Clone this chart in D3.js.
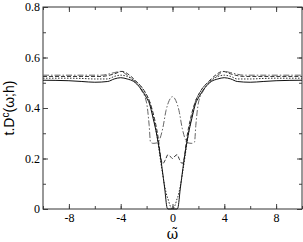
<!DOCTYPE html>
<html>
<head>
<meta charset="utf-8">
<script src="https://cdn.jsdelivr.net/npm/d3@7"></script>
<style>
  body { margin: 0; background: #fff; }
</style>
</head>
<body>
<div id="chart"></div>
<script>
// curve values (symmetric in omega, given for omega >= 0)
var omega = [0, 0.2, 0.35, 0.42, 0.6, 0.8, 1.0, 1.2, 1.5, 1.8, 2.0, 2.5, 3.0, 3.5, 4.0, 4.5, 5.0, 6.0, 7.0, 8.0, 10.0];
var solid  = [0, 0, 0, 0.005, 0.08, 0.16, 0.23, 0.29, 0.36, 0.42, 0.44, 0.48, 0.505, 0.515, 0.52, 0.515, 0.505, 0.502, 0.505, 0.508, 0.51];
var dotted = [0, 0.015, 0.04, 0.05, 0.09, 0.15, 0.22, 0.29, 0.37, 0.43, 0.45, 0.49, 0.51, 0.525, 0.53, 0.525, 0.515, 0.515, 0.517, 0.518, 0.518];
var omegaD = [0, 0.2, 0.35, 0.55, 0.75, 0.9, 1.1, 1.4, 1.8, 2.2, 2.7, 3.2, 3.9, 4.5, 5.5, 7.0, 10.0];
var dashed = [0.2, 0.21, 0.215, 0.195, 0.18, 0.2, 0.28, 0.36, 0.43, 0.47, 0.5, 0.525, 0.545, 0.535, 0.525, 0.525, 0.525];
var omegaE = [0, 0.25, 0.5, 0.75, 1.0, 1.2, 1.5, 1.7, 1.8, 2.0, 2.4, 3.0, 3.5, 4.0, 4.5, 5.5, 7.0, 10.0];
var dome   = [0.445, 0.43, 0.39, 0.32, 0.275, 0.262, 0.26, 0.265, 0.33, 0.42, 0.47, 0.51, 0.53, 0.545, 0.54, 0.53, 0.53, 0.53];

var xTicks = [-8, -4, 0, 4, 8];
var yTicks = [0, 0.2, 0.4, 0.6, 0.8];

function mirror(xs, ys) {
  var pts = [];
  for (var i = xs.length - 1; i > 0; i--) pts.push([-xs[i], ys[i]]);
  for (var j = 0; j < xs.length; j++) pts.push([xs[j], ys[j]]);
  return pts;
}

var svgWidth = 303, svgHeight = 242;
var margin = {top: 7, right: 1, bottom: 33, left: 43};
var width = svgWidth - margin.left - margin.right;
var height = svgHeight - margin.top - margin.bottom;

var serif = "'Liberation Serif', 'DejaVu Serif', serif";

var svg = d3.select("#chart").append("svg")
  .attr("width", svgWidth)
  .attr("height", svgHeight);

var g = svg.append("g")
  .attr("transform", `translate(${margin.left}, ${margin.top})`);

var x = d3.scaleLinear().domain([-10, 10]).range([0, width]);
var y = d3.scaleLinear().domain([0, 0.8]).range([height, 0]);

// axes with inward ticks, minor ticks too
function styleAxis(sel) {
  sel.select(".domain").remove();
  sel.selectAll(".tick line").attr("stroke", "#444");
  sel.selectAll(".tick text")
    .style("font-family", serif)
    .style("font-size", "12px")
    .attr("fill", "#000");
}
g.append("g").attr("transform", `translate(0, ${height})`)
  .call(d3.axisBottom(x).tickValues(d3.range(-10, 10.1, 2)).tickSize(-3).tickFormat(""))
  .call(styleAxis);
g.append("g").attr("transform", `translate(0, ${height})`)
  .call(d3.axisBottom(x).tickValues(xTicks).tickSize(-5).tickPadding(4).tickFormat(d => d))
  .call(styleAxis);
g.append("g")
  .call(d3.axisTop(x).tickValues(d3.range(-10, 10.1, 2)).tickSize(-3).tickFormat(""))
  .call(styleAxis);
g.append("g")
  .call(d3.axisTop(x).tickValues(xTicks).tickSize(-5).tickFormat(""))
  .call(styleAxis);
g.append("g")
  .call(d3.axisLeft(y).tickValues(d3.range(0, 0.81, 0.1)).tickSize(-3).tickFormat(""))
  .call(styleAxis);
g.append("g")
  .call(d3.axisLeft(y).tickValues(yTicks).tickSize(-5).tickPadding(3).tickFormat(d => d === 0 ? "0" : d3.format(".1f")(d)))
  .call(styleAxis);
g.append("g").attr("transform", `translate(${width}, 0)`)
  .call(d3.axisRight(y).tickValues(d3.range(0, 0.81, 0.1)).tickSize(-3).tickFormat(""))
  .call(styleAxis);
g.append("g").attr("transform", `translate(${width}, 0)`)
  .call(d3.axisRight(y).tickValues(yTicks).tickSize(-5).tickFormat(""))
  .call(styleAxis);

// frame
g.append("rect")
  .attr("x", 0).attr("y", 0)
  .attr("width", width).attr("height", height)
  .attr("fill", "none")
  .attr("stroke", "#333")
  .attr("stroke-width", 1);

var line = d3.line()
  .x(d => x(d[0]))
  .y(d => y(d[1]))
  .curve(d3.curveMonotoneX);

var series = [
  {pts: mirror(omegaE, dome), dash: "6,2,1.5,2", color: "#666"},
  {pts: mirror(omegaD, dashed), dash: "4,2", color: "#333"},
  {pts: mirror(omega, dotted), dash: "1.5,1.5", color: "#333"},
  {pts: mirror(omega, solid), dash: null, color: "#111"}
];

g.selectAll(".curve")
  .data(series)
  .enter()
  .append("path")
  .attr("class", "curve")
  .attr("d", d => line(d.pts))
  .attr("fill", "none")
  .attr("stroke", d => d.color)
  .attr("stroke-width", 1)
  .attr("stroke-dasharray", d => d.dash);

// axis labels
svg.append("text")
  .attr("transform", `translate(14, ${margin.top + height / 2}) rotate(-90)`)
  .attr("text-anchor", "middle")
  .style("font-family", "'Liberation Sans', Arial, sans-serif")
  .style("font-size", "14px")
  .html('t.D<tspan dy="-5" font-size="10">c</tspan><tspan dy="5">(ω;h)</tspan>');

svg.append("text")
  .attr("x", margin.left + x(0))
  .attr("y", 239)
  .attr("text-anchor", "middle")
  .style("font-family", "'DejaVu Serif', serif")
  .style("font-size", "14px")
  .text("ω\u0303");
</script>
</body>
</html>
